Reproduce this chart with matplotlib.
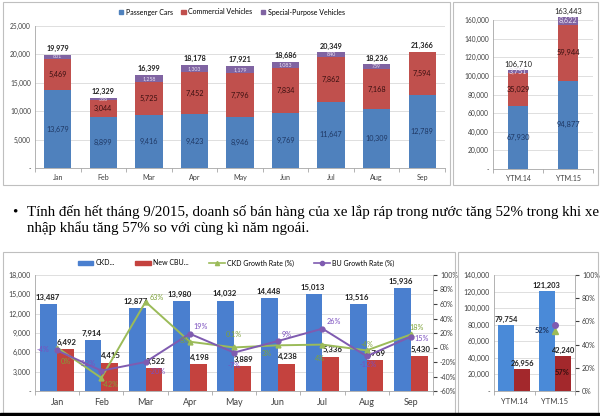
import numpy as np
import matplotlib.pyplot as plt
from matplotlib.patches import Rectangle, Patch
from matplotlib.lines import Line2D
from matplotlib.ticker import FuncFormatter, MultipleLocator, FixedLocator

plt.rcParams['font.family'] = ['Lato', 'DejaVu Sans']

# ---- data: top charts (units) ----
months = ['Jan', 'Feb', 'Mar', 'Apr', 'May', 'Jun', 'Jul', 'Aug', 'Sep']
passenger = [13679, 8899, 9416, 9423, 8946, 9769, 11647, 10309, 12789]
commercial = [5469, 3044, 5725, 7452, 7796, 7834, 7862, 7168, 7594]
special = [831, 386, 1258, 1303, 1179, 1083, 840, 759, 0]
month_totals = [19979, 12329, 16399, 18178, 17921, 18686, 20349, 18236, 21366]

ytd = ['YTM.14', 'YTM.15']
ytd_passenger = [67930, 94877]
ytd_commercial = [35029, 59944]
ytd_special = [3751, 8622]
ytd_totals = [106710, 163443]

# ---- data: bottom charts ----
ckd = [13487, 7914, 12877, 13980, 14032, 14448, 15013, 13516, 15936]
cbu = [6492, 4415, 3522, 4198, 3889, 4238, 5336, 4769, 5430]
ckd_growth = [0, -42, 63, 8, 0.1, 3, 4, -4, 18]
bu_growth = [-4, -32, -20, 19, -7, 9, 26, -12, 15]

ytd_ckd = [79754, 121203]
ytd_cbu = [26956, 42240]
ytd_ckd_growth = 52
ytd_bu_growth = 57

W, H = 600, 416
fig = plt.figure(figsize=(6, 4.16), dpi=100)

def px_axes(l, t, r, b):
    return fig.add_axes([l / W, 1 - b / H, (r - l) / W, (b - t) / H])

def box(l, t, r, b):
    fig.patches.append(Rectangle((l / W, 1 - b / H), (r - l) / W, (b - t) / H,
                                 transform=fig.transFigure, fill=False,
                                 edgecolor='#BFBFBF', lw=0.8))

def thousands(v, pos):
    return '-' if v == 0 else f'{v:,.0f}'

def style_axis(ax, n, fs):
    for s in ['top', 'right']:
        ax.spines[s].set_visible(False)
    for s in ['left', 'bottom']:
        ax.spines[s].set_color('#A6A6A6')
        ax.spines[s].set_linewidth(0.6)
    ax.yaxis.set_major_formatter(FuncFormatter(thousands))
    ax.tick_params(axis='y', length=0, labelsize=fs, colors='#404040', pad=3)
    ax.tick_params(axis='x', which='major', length=0, labelsize=fs + 0.3, colors='#404040', pad=4)
    ax.xaxis.set_minor_locator(FixedLocator(np.arange(n + 1) - 0.5))
    ax.tick_params(axis='x', which='minor', length=3, color='#A6A6A6', width=0.6)
    ax.grid(axis='y', color='#D9D9D9', lw=0.6)
    ax.set_axisbelow(True)
    ax.set_xlim(-0.5, n - 0.5)

blue, red, purple = '#4F81BD', '#C0504D', '#8064A2'

box(3, 2, 450, 185)
box(453, 2, 598, 185)
box(3, 252, 455, 413)
box(458, 252, 598, 413)

# ---- top-left: monthly stacked ----
ax = px_axes(35, 26, 445, 168)
x = np.arange(len(months))
pc = np.array(passenger); cv = np.array(commercial); sp = np.array(special)
ax.bar(x, pc, 0.6, color=blue)
ax.bar(x, cv, 0.6, bottom=pc, color=red)
ax.bar(x, sp, 0.6, bottom=pc + cv, color=purple)
ax.set_ylim(0, 25000)
ax.yaxis.set_major_locator(MultipleLocator(5000))
ax.set_xticks(x)
ax.set_xticklabels(months)
style_axis(ax, len(months), 4.8)
for i in x:
    ax.text(i, pc[i] / 2, f'{pc[i]:,}', ha='center', va='center', fontsize=5.2, color='#1F3864')
    ax.text(i, pc[i] + cv[i] / 2, f'{cv[i]:,}', ha='center', va='center', fontsize=5.2, color='#3A1010')
    if sp[i] > 0:
        ax.text(i, pc[i] + cv[i] + sp[i] / 2, f'{sp[i]:,}', ha='center', va='center',
                fontsize=3.8, color='#E8E0F0')
    ax.text(i, pc[i] + cv[i] + sp[i] + 500, f'{month_totals[i]:,}', ha='center', va='bottom',
            fontsize=5.2, fontweight='bold', color='#202020')

fig.legend(handles=[Patch(color=blue, label='Passenger Cars'),
                    Patch(color=red, label='Commercial Vehicles'),
                    Patch(color=purple, label='Special-Purpose Vehicles')],
           loc='center', bbox_to_anchor=(232 / W, 1 - 12 / H), ncol=3, frameon=False,
           fontsize=5, handlelength=0.6, handleheight=0.6, columnspacing=1.2, handletextpad=0.4)

# ---- top-right: YTD stacked ----
ax = px_axes(493, 20, 593, 169)
x2 = np.arange(len(ytd))
ypc = np.array(ytd_passenger); ycv = np.array(ytd_commercial); ysp = np.array(ytd_special)
ax.bar(x2, ypc, 0.4, color=blue, clip_on=False)
ax.bar(x2, ycv, 0.4, bottom=ypc, color=red, clip_on=False)
ax.bar(x2, ysp, 0.4, bottom=ypc + ycv, color=purple, clip_on=False)
ax.set_ylim(0, 160000)
ax.yaxis.set_major_locator(MultipleLocator(20000))
ax.set_xticks(x2)
ax.set_xticklabels(ytd)
style_axis(ax, len(ytd), 4.8)
for i in x2:
    ax.text(i, ypc[i] / 2, f'{ypc[i]:,}', ha='center', va='center', fontsize=5.4, color='#1F3864')
    ax.text(i, ypc[i] + ycv[i] / 2, f'{ycv[i]:,}', ha='center', va='center', fontsize=5.4, color='#3A1010')
    ax.text(i, ypc[i] + ycv[i] + ysp[i] / 2, f'{ysp[i]:,}', ha='center', va='center', fontsize=5.2, color='#E8E0F0')
    ax.text(i, ypc[i] + ycv[i] + ysp[i] + 1500, f'{ytd_totals[i]:,}', ha='center', va='bottom',
            fontsize=5.4, color='#202020')

# ---- text paragraph ----
fig.text(12 / W, 1 - 212 / H, '•', fontsize=10.8, family='Liberation Serif', va='center')
fig.text(27 / W, 1 - 212 / H,
         'Tính đến hết tháng 9/2015, doanh số bán hàng của xe lắp ráp trong nước tăng 52% trong khi xe',
         fontsize=10.8, family='Liberation Serif', va='center')
fig.text(27 / W, 1 - 228 / H, 'nhập khẩu tăng 57% so với cùng kì năm ngoái.',
         fontsize=10.8, family='Liberation Serif', va='center')

# ---- bottom-left: CKD / CBU with growth rates ----
bblue, bred, green, bpurple = '#4A7FCF', '#C4423E', '#9BBB59', '#7F5BB0'
ax = px_axes(35, 275, 433, 391)
x = np.arange(len(months))
ax.bar(x - 0.19, ckd, 0.38, color=bblue)
ax.bar(x + 0.19, cbu, 0.38, color=bred)
ax.set_ylim(0, 18000)
ax.yaxis.set_major_locator(MultipleLocator(3000))
ax.set_xticks(x)
ax.set_xticklabels(months)
style_axis(ax, len(months), 5)
ax.tick_params(axis='x', which='major', labelsize=6.5, pad=5)
for i in x:
    ax.text(i - 0.22, ckd[i] + 500, f'{ckd[i]:,}', ha='center', va='bottom', fontsize=5.6,
            fontweight='bold', color='#202020')
    ax.text(i + 0.22, cbu[i] + 500, f'{cbu[i]:,}', ha='center', va='bottom', fontsize=5.6,
            fontweight='bold', color='#202020')

ax2 = ax.twinx()
ax2.set_ylim(-60, 100)
ax2.yaxis.set_major_locator(MultipleLocator(20))
ax2.yaxis.set_major_formatter(FuncFormatter(lambda v, p: f'{v:.0f}%'))
ax2.tick_params(axis='y', length=3, labelsize=5, colors='#404040', pad=2)
for s in ['top', 'left', 'bottom']:
    ax2.spines[s].set_visible(False)
ax2.spines['right'].set_color('#A6A6A6')
ax2.spines['right'].set_linewidth(0.6)
ax2.plot(x, ckd_growth, color=green, lw=1.4, marker='^', ms=3.5)
ax2.plot(x, bu_growth, color=bpurple, lw=1.4, marker='o', ms=3.5)

ckd_off = [(6, -10), (6, -5), (8, 3), (-4, 1), (0, 9), (-8, -6), (-2, -10), (0, 4), (4, 5)]
bu_off = [(-10, 1), (-10, 5), (8, -7), (8, 5), (0, -9), (6, 5), (8, 5), (1, -6), (8, -1)]
for i in x:
    g = ckd_growth[i]
    ax2.annotate(f'{g:g}%', (i, g), xytext=ckd_off[i], textcoords='offset points',
                 ha='center', va='center', fontsize=5.2, color='#7FA33A')
    b = bu_growth[i]
    ax2.annotate(f'{b}%', (i, b), xytext=bu_off[i], textcoords='offset points',
                 ha='center', va='center', fontsize=5.2, color='#7B4FBF')

fig.legend(handles=[Patch(color=bblue, label='CKD...'),
                    Patch(color=bred, label='New CBU...'),
                    Line2D([], [], color=green, marker='^', ms=3, lw=1.2, label='CKD Growth Rate (%)'),
                    Line2D([], [], color=bpurple, marker='o', ms=3, lw=1.2, label='BU Growth Rate (%)')],
           loc='center', bbox_to_anchor=(236 / W, 1 - 263 / H), ncol=4, frameon=False,
           fontsize=5, handlelength=2.2, handleheight=0.7, columnspacing=3, handletextpad=0.3)

# ---- bottom-right: YTD CKD / CBU ----
ax = px_axes(494, 275, 575, 391)
x2 = np.arange(len(ytd))
ax.bar(x2 - 0.2, ytd_ckd, 0.4, color='#4A8AD8')
ax.bar(x2 + 0.2, ytd_cbu, 0.4, color='#A3282C')
ax.set_ylim(0, 140000)
ax.yaxis.set_major_locator(MultipleLocator(20000))
ax.set_xticks(x2)
ax.set_xticklabels(ytd)
style_axis(ax, len(ytd), 5)
ax.tick_params(axis='x', which='major', labelsize=5.5, pad=5)
for i in x2:
    ax.text(i - 0.2, ytd_ckd[i] + 2500, f'{ytd_ckd[i]:,}', ha='center', va='bottom', fontsize=5.4,
            fontweight='bold', color='#202020')
    ax.text(i + 0.2, ytd_cbu[i] + 2500, f'{ytd_cbu[i]:,}', ha='center', va='bottom', fontsize=5.4,
            fontweight='bold', color='#202020')

ax2 = ax.twinx()
ax2.set_ylim(0, 100)
ax2.yaxis.set_major_locator(MultipleLocator(20))
ax2.yaxis.set_major_formatter(FuncFormatter(lambda v, p: f'{v:.0f}%'))
ax2.tick_params(axis='y', length=3, labelsize=5, colors='#404040', pad=2)
for s in ['top', 'left', 'bottom']:
    ax2.spines[s].set_visible(False)
ax2.spines['right'].set_color('#A6A6A6')
ax2.spines['right'].set_linewidth(0.6)
ax2.plot([1], [ytd_ckd_growth], color=green, marker='^', ms=4, ls='none')
ax2.plot([1], [ytd_bu_growth], color=bpurple, marker='o', ms=4, ls='none')
ax2.annotate(f'{ytd_ckd_growth}%', (1, ytd_ckd_growth), xytext=(-9, 0), textcoords='offset points',
             ha='center', va='center', fontsize=5.4, fontweight='bold', color='#1F3864')
ax2.annotate(f'{ytd_bu_growth}%', (1, ytd_bu_growth), xytext=(5, -34), textcoords='offset points',
             ha='center', va='center', fontsize=5.4, fontweight='bold', color='#3A1010')

# black strip at the bottom edge
fig.patches.append(Rectangle((0, 0), 1, 3 / H, transform=fig.transFigure, color='black'))

fig.savefig('out.png', dpi=100)
